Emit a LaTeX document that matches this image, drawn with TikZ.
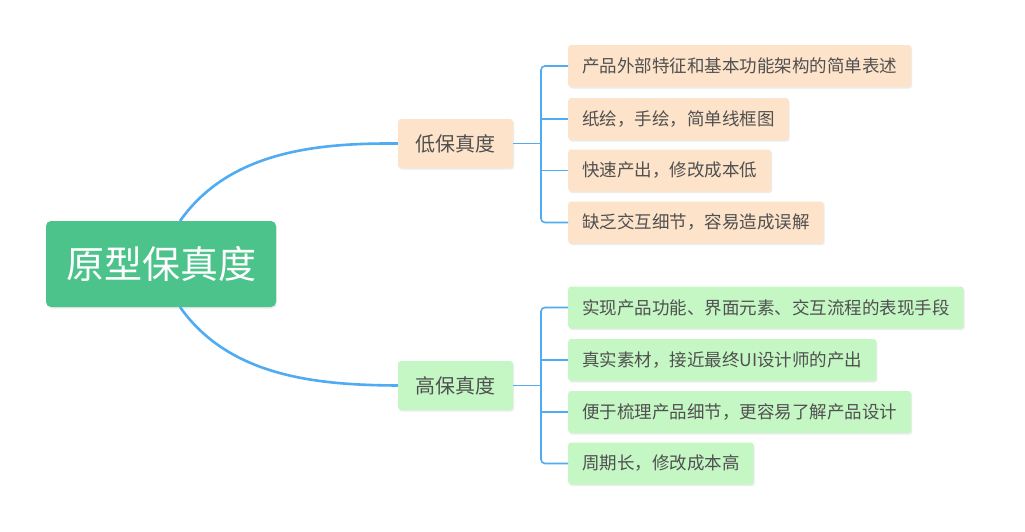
\documentclass[tikz,border=0pt]{standalone}
\usepackage{fontspec}
\setmainfont{Noto Sans CJK SC}
\usetikzlibrary{shadows}
\definecolor{rootg}{HTML}{4DC38C}
\definecolor{peach}{HTML}{FDE3C9}
\definecolor{lgreen}{HTML}{C4F7C4}
\definecolor{lineb}{HTML}{4FABF2}
\definecolor{txt}{HTML}{505050}
\begin{document}
\begin{tikzpicture}[x=1pt,y=-1pt,
  shad/.style={drop shadow={shadow xshift=1pt,shadow yshift=-1.5pt,opacity=0.15}},
  leafL/.style={shad,fill=peach,rounded corners=3pt,anchor=west,minimum height=42pt,inner xsep=14pt,text=txt,font=\fontsize{17.5}{20}\selectfont},
  leafH/.style={leafL,fill=lgreen},
  mid/.style={shad,rounded corners=3pt,minimum width=115pt,minimum height=49pt,text=txt,font=\fontsize{20}{24}\selectfont},
  conn/.style={draw=lineb,line width=2.6pt},
  br/.style={draw=lineb,line width=1.6pt,rounded corners=4pt}]
\fill[white] (0,0) rectangle (1025,531);
\useasboundingbox (0,0) rectangle (1025,531);
\node[shad,fill=rootg,rounded corners=5pt,minimum width=230pt,minimum height=86pt,text=white,font=\fontsize{38}{42}\selectfont] (root) at (161,264) {原型保真度};
\node[mid,fill=peach] (low) at (455.5,143.5) {低保真度};
\node[mid,fill=lgreen] (high) at (455.5,385.5) {高保真度};
\draw[conn] (180,221) .. controls (230,150) and (320,143) .. (low.west);
\draw[conn] (180,307) .. controls (230,378) and (320,385) .. (high.west);
\node[leafL] (l1) at (568,66) {产品外部特征和基本功能架构的简单表述};
\node[leafL] (l2) at (568,119) {纸绘，手绘，简单线框图};
\node[leafL] (l3) at (568,170.5) {快速产出，修改成本低};
\node[leafL] (l4) at (568,222.5) {缺乏交互细节，容易造成误解};
\node[leafH] (h1) at (568,307.5) {实现产品功能、界面元素、交互流程的表现手段};
\node[leafH] (h2) at (568,360) {真实素材，接近最终UI设计师的产出};
\node[leafH] (h3) at (568,412) {便于梳理产品细节，更容易了解产品设计};
\node[leafH] (h4) at (568,463.5) {周期长，修改成本高};
\coordinate (lj) at (541,143.5);
\coordinate (hj) at (541,385.5);
\draw[br] (low.east) -- (lj);
\draw[br] (high.east) -- (hj);
\draw[br] (l1.west) -- (541,66) -- (541,222.5) -- (l4.west);
\draw[br] (l2.west) -- (541,119);
\draw[br] (l3.west) -- (541,170.5);
\draw[br] (h1.west) -- (541,307.5) -- (541,463.5) -- (h4.west);
\draw[br] (h2.west) -- (541,360);
\draw[br] (h3.west) -- (541,412);
\end{tikzpicture}
\end{document}
